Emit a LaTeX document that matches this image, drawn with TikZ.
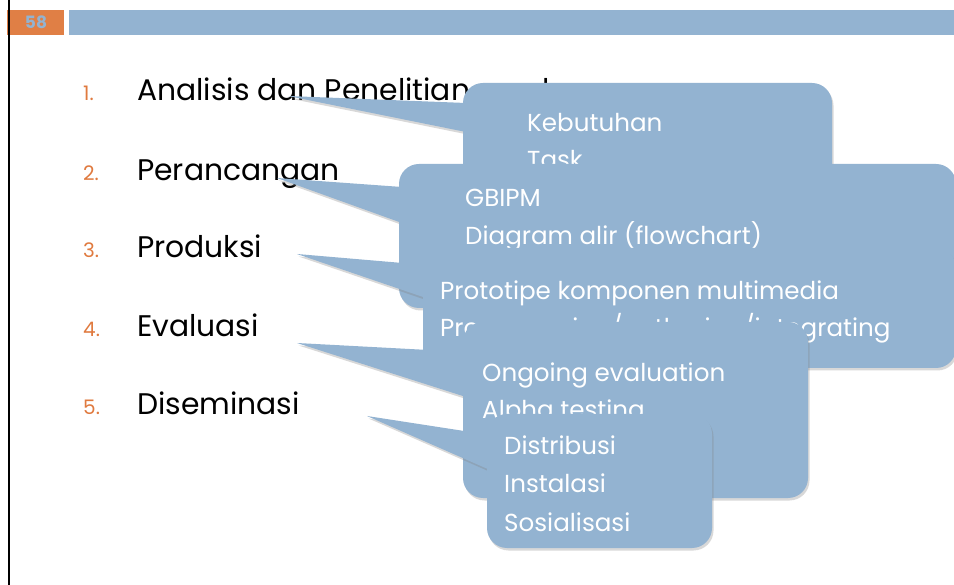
\documentclass[tikz,border=0pt]{standalone}
\usepackage{fontspec}
\setmainfont{Poppins}
\usetikzlibrary{shadows}
\definecolor{cblue}{HTML}{93B3D1}
\definecolor{corange}{HTML}{E07F45}
\definecolor{numorange}{HTML}{E07A3F}
\definecolor{pgnum}{HTML}{93B3D0}
\tikzset{
  ctext/.style={anchor=base west, text=white, font=\fontsize{24.6}{28}\selectfont, inner sep=0pt},
  itemtext/.style={anchor=base west, text=black, font=\fontsize{29.8}{34}\selectfont, inner sep=0pt},
  numtext/.style={anchor=base west, text=numorange, font=\fontsize{20}{22}\selectfont, inner sep=0pt},
  callout/.style={fill=cblue, drop shadow={opacity=0.3, fill=gray, shadow xshift=1.5pt, shadow yshift=-2.5pt}},
}
\begin{document}
\begin{tikzpicture}[x=1pt,y=-1pt]
\useasboundingbox (0,0) rectangle (954,585);
\fill[white] (0,0) rectangle (954,585);
% header bar
\fill[corange] (7,10) rectangle (64,35);
\fill[cblue] (69,10) rectangle (954,35);
\node[text=pgnum, font=\bfseries\fontsize{17}{18}\selectfont, inner sep=0pt] (pg) at (36,22.5) {58};
\draw[black, line width=2pt] (9,0) -- (9,585);
% list
\node[numtext] (n1) at (83,101) {1.};
\node[numtext] (n2) at (83,181) {2.};
\node[numtext] (n3) at (83,258) {3.};
\node[numtext] (n4) at (83,337) {4.};
\node[numtext] (n5) at (83,415) {5.};
\node[itemtext] (t1) at (137,101) {Analisis dan Penelitian awal};
\node[itemtext] (t2) at (137,181) {Perancangan};
\node[itemtext] (t3) at (137,258) {Produksi};
\node[itemtext] (t4) at (137,337) {Evaluasi};
\node[itemtext] (t5) at (137,415) {Diseminasi};
% callout 1
\coordinate (tip1) at (288,96);
\fill[callout] [rounded corners=20] (463,83) -- (832,83) -- (832,290) -- (463,290) -- cycle
  [sharp corners] (tip1) -- (466,103) -- (466,132) -- cycle;
\node[ctext] (c1a) at (527,132) {Kebutuhan};
\node[ctext] (c1b) at (527,169) {Task};
% callout 2
\coordinate (tip2) at (277,178);
\fill[callout] [rounded corners=20] (399,164) -- (956,164) -- (956,308) -- (399,308) -- cycle
  [sharp corners] (tip2) -- (402,187) -- (402,223) -- cycle;
\node[ctext] (c2a) at (465,207) {GBIPM};
\node[ctext] (c2b) at (465,245) {Diagram alir (flowchart)};
% callout 3
\coordinate (tip3) at (297,254);
\fill[callout] [rounded corners=20] (423,248) -- (956,248) -- (956,368) -- (423,368) -- cycle
  [sharp corners] (tip3) -- (426,265) -- (426,298) -- cycle;
\node[ctext] (c3a) at (440,300) {Prototipe komponen multimedia};
\node[ctext] (c3b) at (440,337) {Programming/authoring/integrating};
% callout 4
\coordinate (tip4) at (297,343);
\fill[callout] [rounded corners=20] (463,322) -- (808,322) -- (808,498) -- (463,498) -- cycle
  [sharp corners] (tip4) -- (466,352) -- (466,397) -- cycle;
\node[ctext] (c4a) at (482,382) {Ongoing evaluation};
\node[ctext] (c4b) at (482,419) {Alpha testing};
% callout 5
\coordinate (tip5) at (367,416);
\fill[callout] [rounded corners=20] (487,414) -- (712,414) -- (712,548) -- (487,548) -- cycle
  [sharp corners] (tip5) -- (490,435) -- (490,470) -- cycle;
\node[ctext] (c5a) at (504,454) {Distribusi};
\node[ctext] (c5b) at (504,493) {Instalasi};
\node[ctext] (c5c) at (504,531) {Sosialisasi};
\end{tikzpicture}
\end{document}
